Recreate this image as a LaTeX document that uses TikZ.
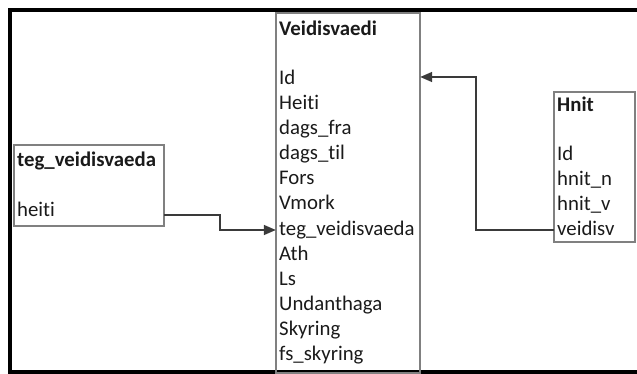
\documentclass[tikz,border=0pt]{standalone}
\usepackage{fontspec}
\setmainfont[Ligatures=NoCommon]{Carlito}
\usetikzlibrary{arrows.meta,calc}
\definecolor{boxgray}{HTML}{808080}
\definecolor{txt}{HTML}{1A1A1A}
\definecolor{conncol}{HTML}{3A3A3A}
\tikzset{
  tablebox/.style={draw=boxgray,line width=1.4pt,fill=none},
  rowtxt/.style={anchor=west,inner sep=0pt,text height=14pt,text depth=4pt,text=txt,font=\fontsize{20.8}{24}\selectfont},
  titletxt/.style={rowtxt,font=\fontsize{20.8}{24}\selectfont\bfseries},
  conn/.style={draw=conncol,line width=1.6pt,-{Triangle[length=12pt,width=10pt]}},
}
\begin{document}
\begin{tikzpicture}[x=1pt,y=-1pt]
\useasboundingbox (0,0) rectangle (637,374);
% outer frame
\draw[line width=4.6pt,black] (660,10) -- (10,10) -- (10,372) -- (660,372);
% boxes
\draw[tablebox] (276,13) rectangle (420,373);
\draw[tablebox] (14,145) rectangle (164,226);
\draw[tablebox] (554,92) rectangle (635,242);
\node[inner sep=0pt,minimum width=144pt,minimum height=360pt] (vb) at (348,193) {};
\node[inner sep=0pt,minimum width=150pt,minimum height=81pt] (tb) at (89,185.5) {};
\node[inner sep=0pt,minimum width=81pt,minimum height=150pt] (hb) at (594.5,167) {};
% Veidisvaedi
\node[titletxt] (vt) at (279,31) {Veidisvaedi};
\node[rowtxt] (v1) at (279,80) {Id};
\node[rowtxt] (v2) at (279,105) {Heiti};
\node[rowtxt] (v3) at (279,130) {dags\_fra};
\node[rowtxt] (v4) at (279,155) {dags\_til};
\node[rowtxt] (v5) at (279,180) {Fors};
\node[rowtxt] (v6) at (279,205) {Vmork};
\node[rowtxt] (v7) at (279,230) {teg\_veidisvaeda};
\node[rowtxt] (v8) at (279,255) {Ath};
\node[rowtxt] (v9) at (279,280) {Ls};
\node[rowtxt] (v10) at (279,305) {Undanthaga};
\node[rowtxt] (v11) at (279,330) {Skyring};
\node[rowtxt] (v12) at (279,355) {fs\_skyring};
% teg_veidisvaeda
\node[titletxt] (tt) at (17,162) {teg\_veidisvaeda};
\node[rowtxt] (t1) at (17,212) {heiti};
% Hnit
\node[titletxt] (ht) at (557,107) {Hnit};
\node[rowtxt] (h1) at (557,156) {Id};
\node[rowtxt] (h2) at (557,181) {hnit\_n};
\node[rowtxt] (h3) at (557,206) {hnit\_v};
\node[rowtxt] (h4) at (557,230) {veidisv};
% connectors
\coordinate (ta) at ($(tb.east |- t1.west)+(0,3)$);
\draw[conn] (ta) -- ++(56,0) |- (vb.west |- v7.west);
\coordinate (va) at ($(vb.east |- v1.west)+(0,-3)$);
\draw[conn] (hb.west |- h4.west) -- ++(-78,0) |- (va);
\end{tikzpicture}
\end{document}
